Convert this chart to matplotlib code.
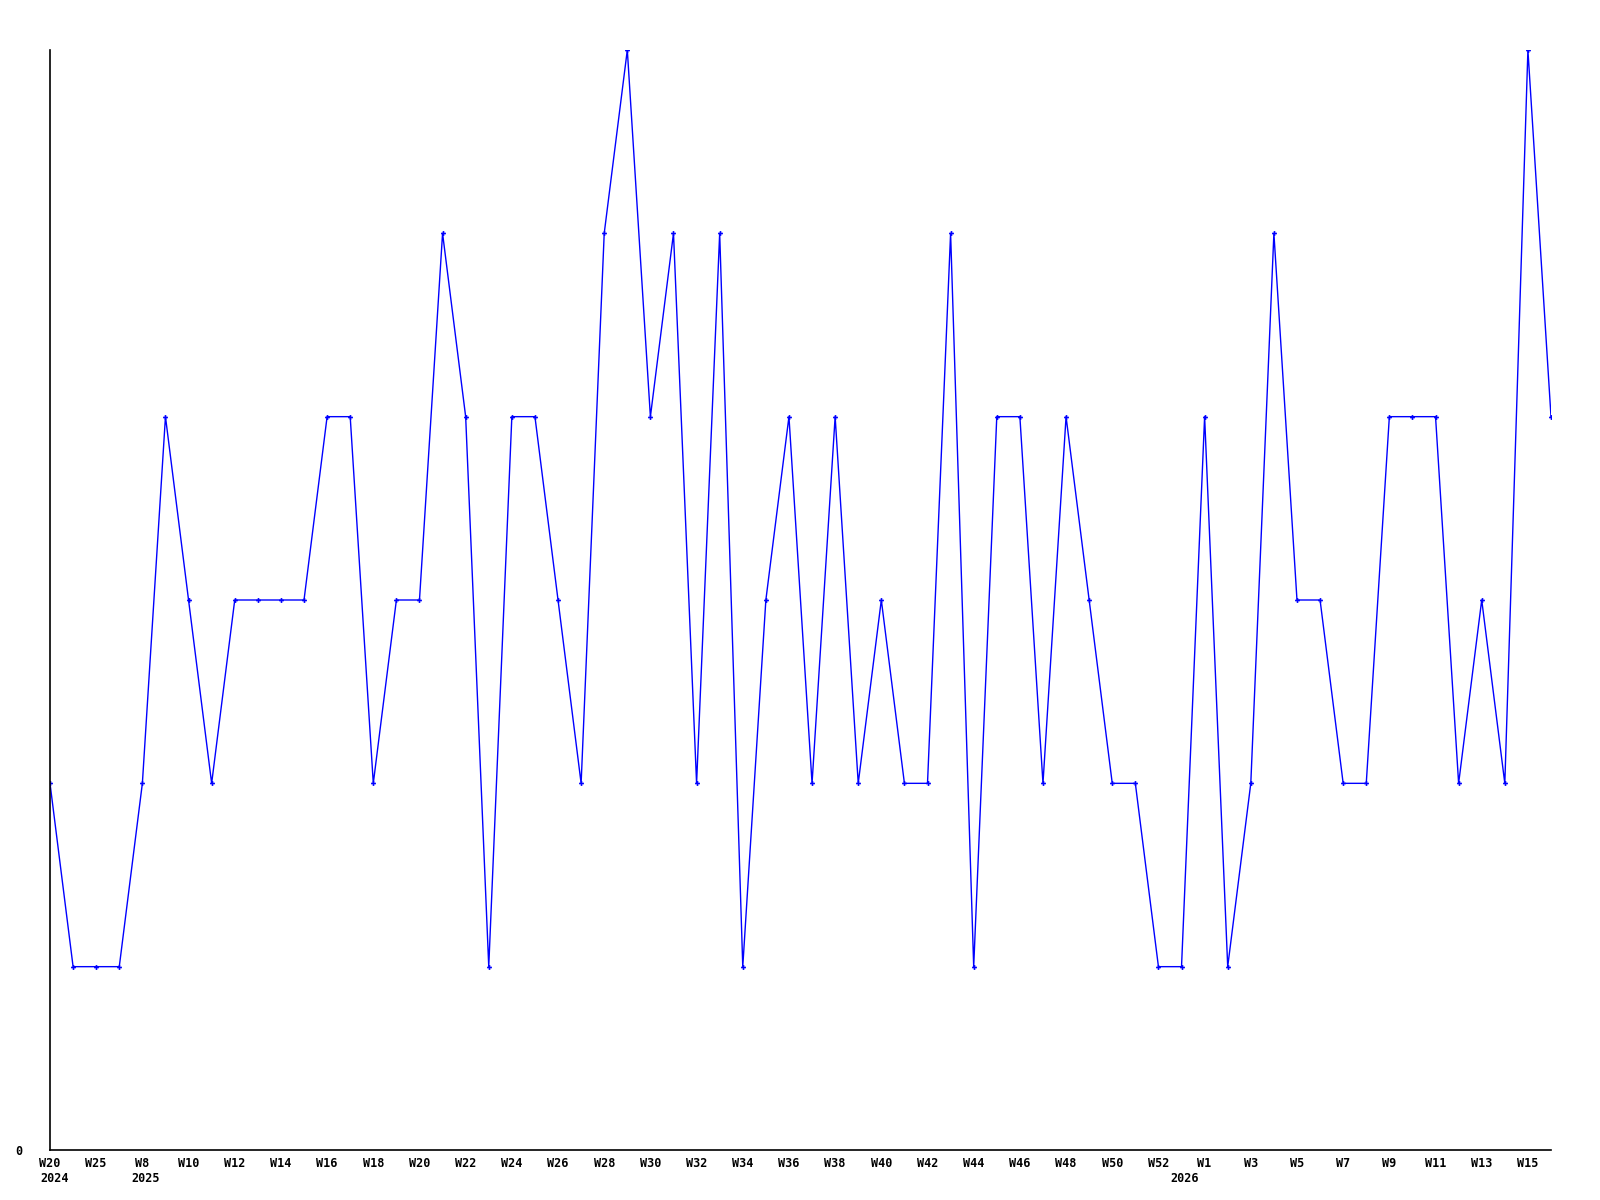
import matplotlib
matplotlib.use("Agg")
import matplotlib.pyplot as plt
from matplotlib.transforms import blended_transform_factory

# weekly counts, one per point
values = [2, 1, 1, 1, 2, 4, 3, 2, 3, 3, 3, 3, 4, 4, 2, 3, 3, 5, 4, 1,
          4, 4, 3, 2, 5, 6, 4, 5, 2, 5, 1, 3, 4, 2, 4, 2, 3, 2, 2, 5,
          1, 4, 4, 2, 4, 3, 2, 2, 1, 1, 4, 1, 2, 5, 3, 3, 2, 2, 4, 4,
          4, 2, 3, 2, 6, 4]

# label every second point
tick_labels = ["W20", "W25", "W8", "W10", "W12", "W14", "W16", "W18",
               "W20", "W22", "W24", "W26", "W28", "W30", "W32", "W34", "W36",
               "W38", "W40", "W42", "W44", "W46", "W48", "W50", "W52",
               "W1", "W3", "W5", "W7", "W9", "W11", "W13", "W15"]

# year markers: (point index where the year text starts, text)
year_pos = [-0.43, 3.52, 48.5]
year_text = ["2024", "2025", "2026"]

xs = list(range(len(values)))
tick_pos = xs[::2]

font = dict(fontsize=8.5, fontweight="bold", family="DejaVu Sans Mono")

fig = plt.figure(figsize=(16, 12), dpi=100)
ax = fig.add_axes([50 / 1600, 50 / 1200, 1501 / 1600, 1100 / 1200])

ax.plot(xs, values, color="#0000ff", linewidth=1.0, marker="P", markersize=3.5,
        markeredgewidth=0)

ax.set_xlim(0, len(values) - 1)
ax.set_ylim(0, 6)
ax.set_xticks(tick_pos)
ax.set_xticklabels(tick_labels, va="top", **font)
ax.set_yticks([0])
ax.set_yticklabels(["0"], **font)
ax.tick_params(length=0, pad=5)
ax.tick_params(axis="y", pad=20)
for s in ["top", "right"]:
    ax.spines[s].set_visible(False)
ax.spines["left"].set_linewidth(1.2)
ax.spines["bottom"].set_linewidth(1.2)

tr = blended_transform_factory(ax.transData, ax.transAxes)
for xp, t in zip(year_pos, year_text):
    ax.text(xp, -22 / 1100, t, transform=tr, ha="left", va="top", **font)

fig.savefig("out.png", dpi=100, facecolor="white")
